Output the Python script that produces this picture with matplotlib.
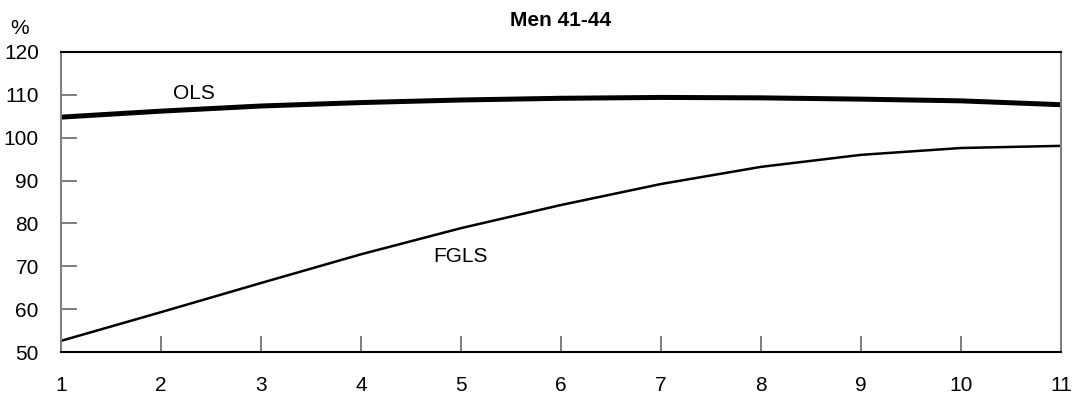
import matplotlib.pyplot as plt

plt.rcParams['font.family'] = ['Liberation Sans', 'DejaVu Sans']

# Horizon (quarters) and relative efficiency in %
horizon = [1, 2, 3, 4, 5, 6, 7, 8, 9, 10, 11]
ols = [104.8, 106.2, 107.4, 108.2, 108.8, 109.2, 109.4, 109.3, 109.0, 108.6, 107.7]
fgls = [52.6, 59.3, 66.1, 72.8, 78.9, 84.3, 89.2, 93.2, 96.0, 97.6, 98.1]

fig = plt.figure(figsize=(10.78, 3.93), dpi=100)
ax = fig.add_axes([0.0566, 0.1043, 0.9276, 0.7634])

ax.plot(horizon, ols, color='black', lw=3.6, solid_capstyle='butt')
ax.plot(horizon, fgls, color='black', lw=1.8, solid_capstyle='butt')

ax.text(2.33, 110.4, 'OLS', fontsize=15, ha='center', va='center')
ax.text(5.0, 72.4, 'FGLS', fontsize=15, ha='center', va='center')

ax.set_xlim(1, 11)
ax.set_ylim(50, 120)
ax.set_xticks(horizon)
ax.set_yticks(range(50, 121, 10))

ax.tick_params(axis='both', direction='in', length=11.5, width=1.2,
               color='#666666', labelsize=15)
ax.tick_params(axis='x', pad=17)
ax.tick_params(axis='y', pad=16)

for side in ['top', 'bottom']:
    ax.spines[side].set_color('black')
    ax.spines[side].set_linewidth(1.5)
for side in ['left', 'right']:
    ax.spines[side].set_color('#808080')
    ax.spines[side].set_linewidth(1.5)

ax.set_title('Men 41-44', fontsize=15, fontweight='bold', pad=19)
fig.text(20 / 1078, 1 - 29 / 393, '%', fontsize=15, ha='center', va='center')

fig.savefig('out.png', dpi=100)
